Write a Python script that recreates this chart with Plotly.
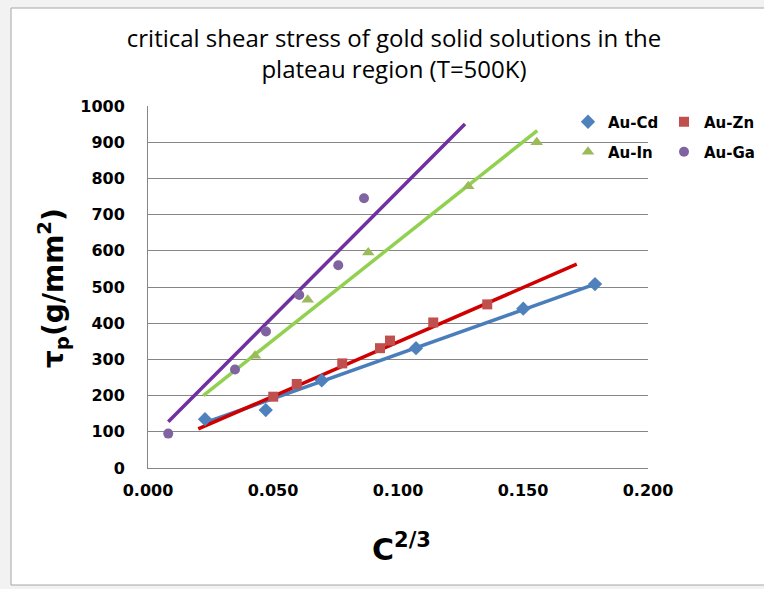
import plotly.graph_objects as go

# ---- data ----
cd_x = [0.0228, 0.0471, 0.0695, 0.1072, 0.1501, 0.1788]
cd_y = [135, 160, 242, 331, 440, 508]
zn_x = [0.0501, 0.0595, 0.0777, 0.0928, 0.0968, 0.1141, 0.1357]
zn_y = [197, 232, 289, 331, 352, 402, 452]
in_x = [0.0428, 0.0639, 0.0881, 0.1281, 0.1555]
in_y = [310, 465, 595, 778, 900]
ga_x = [0.0081, 0.0348, 0.0472, 0.0605, 0.0761, 0.0864]
ga_y = [95, 272, 377, 478, 560, 745]

# fitted lines (end points)
cd_fit_x = [0.0228, 0.1788]
cd_fit_y = [125, 508]
zn_fit_x = [0.0201, 0.1715]
zn_fit_y = [108, 563]
in_fit_x = [0.0221, 0.1557]
in_fit_y = [200, 932]
ga_fit_x = [0.0081, 0.1268]
ga_fit_y = [128, 950]

x_ticks = [0.0, 0.05, 0.1, 0.15, 0.2]
x_tick_text = ["0.000", "0.050", "0.100", "0.150", "0.200"]
y_ticks = list(range(0, 1001, 100))

W, H = 764, 589
ML, MR, MT, MB = 148, 116, 106, 121
PW, PH = W - ML - MR, H - MT - MB

def px(xp):
    return (xp - ML) / PW

def py(yp):
    return (H - MB - yp) / PH

fig = go.Figure()

lines = [
    (cd_fit_x, cd_fit_y, "#4a7ebb"),
    (zn_fit_x, zn_fit_y, "#d00000"),
    (in_fit_x, in_fit_y, "#92d050"),
    (ga_fit_x, ga_fit_y, "#7030a0"),
]
for lx, ly, c in lines:
    fig.add_trace(go.Scatter(x=lx, y=ly, mode="lines", line=dict(color=c, width=3.5),
                             showlegend=False, hoverinfo="skip"))

series = [
    ("Au-Cd", cd_x, cd_y, "#4f81bd", "diamond", 11, "legend"),
    ("Au-Zn", zn_x, zn_y, "#c0504d", "square", 10, "legend"),
    ("Au-In", in_x, in_y, "#9bbb59", "triangle-up", 11, "legend2"),
    ("Au-Ga", ga_x, ga_y, "#8064a2", "circle", 10, "legend2"),
]
for name, sx, sy, c, sym, sz, lg in series:
    fig.add_trace(go.Scatter(x=sx, y=sy, mode="markers", name=name,
                             marker=dict(color=c, symbol=sym, size=sz),
                             legend=lg))

legend_common = dict(orientation="h",
                     font=dict(family="DejaVu Sans", size=15, color="#000000", weight="bold"),
                     bgcolor="rgba(0,0,0,0)", entrywidth=51, entrywidthmode="pixels",
                     itemwidth=30, xanchor="left", yanchor="middle", tracegroupgap=0)
fig.update_layout(
    legend=dict(x=px(568), y=py(122), **legend_common),
    legend2=dict(x=px(568), y=py(152), **legend_common),
)

bold = dict(family="DejaVu Sans", color="#000000", weight="bold")

fig.update_layout(
    width=W, height=H,
    margin=dict(l=ML, r=MR, t=MT, b=MB, pad=0, autoexpand=False),
    paper_bgcolor="#f2f2f2",
    plot_bgcolor="#ffffff",
    showlegend=True,
    title=dict(text="critical shear stress of gold solid solutions in the<br>plateau region (T=500K)",
               x=394 / W, xanchor="center", y=1 - 47 / H, yanchor="middle",
               font=dict(family="Open Sans", size=24, color="#000000")),
    xaxis=dict(range=[0, 0.2], tickvals=x_ticks, ticktext=x_tick_text, showgrid=False,
               showline=True, linecolor="#868686", linewidth=1, ticks="", zeroline=False,
               tickfont=dict(size=16, **bold),
               ticklabelstandoff=8, fixedrange=True),
    yaxis=dict(range=[0, 1000], tickvals=y_ticks, showgrid=True, gridcolor="#868686", gridwidth=1,
               showline=True, linecolor="#868686", linewidth=1, ticks="", zeroline=False,
               tickfont=dict(size=16, **bold),
               ticklabelstandoff=19, fixedrange=True),
    shapes=[dict(type="rect", xref="paper", yref="paper", layer="below",
                 x0=px(11), x1=px(790), y0=py(585), y1=py(8),
                 fillcolor="#ffffff", line=dict(color="#a6a6a6", width=1))],
    annotations=[
        dict(text="τ<sub>p</sub>(g/mm<sup>2</sup>)", xref="paper", yref="paper",
             x=px(53), y=py(288), textangle=-90, showarrow=False,
             font=dict(size=28, **bold),
             xanchor="center", yanchor="middle"),
        dict(text="C<sup>2/3</sup>", xref="paper", yref="paper",
             x=px(401), y=py(547), showarrow=False,
             font=dict(size=30, **bold),
             xanchor="center", yanchor="middle"),
    ],
)

fig.write_html("out.html")
